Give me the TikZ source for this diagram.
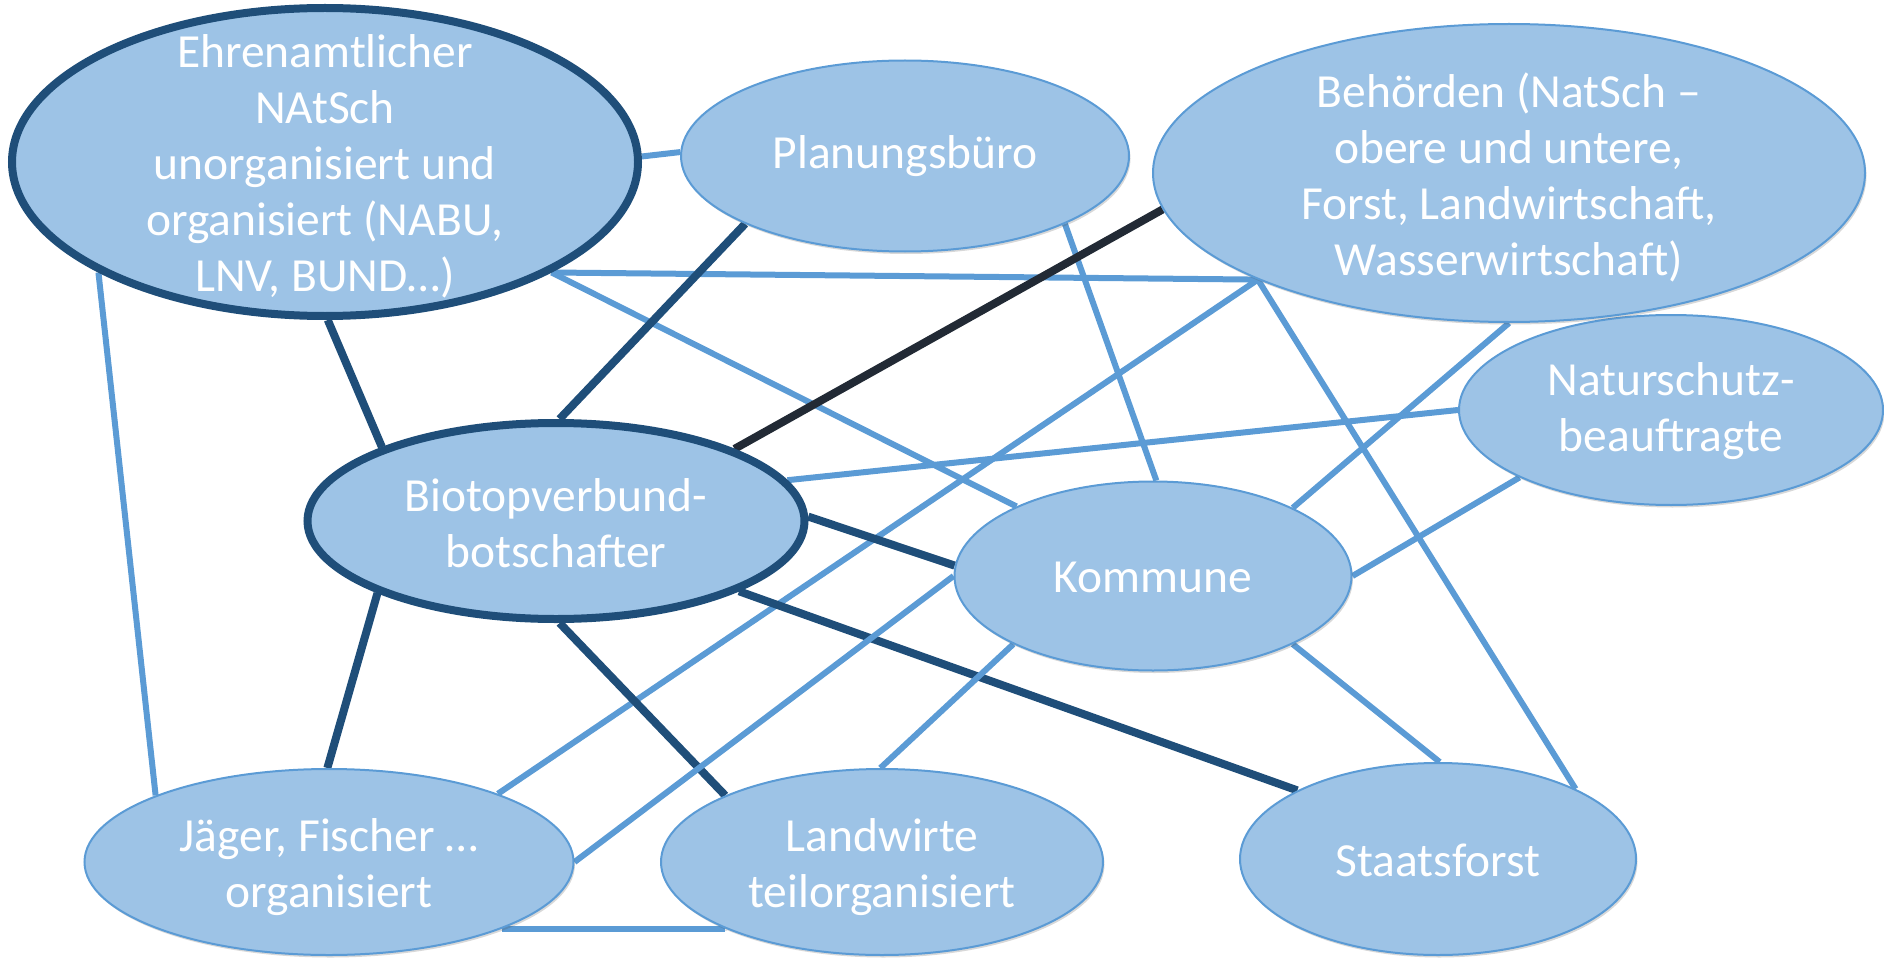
\documentclass[tikz,border=0pt]{standalone}
\usepackage{fontspec}
\setmainfont{Carlito}
\usetikzlibrary{shapes.geometric,backgrounds,shadows}
\definecolor{fillblue}{HTML}{9DC3E6}
\definecolor{lineblue}{HTML}{5B9BD5}
\definecolor{darkblue}{HTML}{1F4E79}
\definecolor{nearblack}{HTML}{222A35}
\tikzset{
  bubble/.style={ellipse, fill=fillblue, draw=lineblue, line width=2pt, inner sep=0pt,
    drop shadow={shadow xshift=1.5pt, shadow yshift=-2.5pt, opacity=0.22, fill=black!70}},
  keybubble/.style={bubble, draw=darkblue, line width=8pt},
  lbl/.style={text=white, align=center, inner sep=0pt, font=\fontsize{47.5}{56}\selectfont},
  linkshadow/.style={preaction={draw=black, opacity=0.12, transform canvas={shift={(1.5pt,-2pt)}}}},
  lightlink/.style={linkshadow, draw=lineblue, line width=6pt},
  darklink/.style={linkshadow, draw=darkblue, line width=8pt},
  blacklink/.style={linkshadow, draw=nearblack, line width=8pt},
}
\begin{document}
\begin{tikzpicture}[x=1pt,y=-1pt]
\useasboundingbox (0,0) rectangle (1884,960);
% nodes
\node[bubble, minimum width=424pt, minimum height=190pt] (nat) at (1671,410) {};
\node[bubble, minimum width=712pt, minimum height=298pt] (beh) at (1509,173) {};
\node[keybubble, minimum width=626pt, minimum height=308pt] (ehren) at (325,162) {};
\node[bubble, minimum width=448pt, minimum height=191pt] (plan) at (905,156) {};
\node[keybubble, minimum width=497pt, minimum height=196pt] (bio) at (556,521) {};
\node[bubble, minimum width=397pt, minimum height=189pt] (kom) at (1153,576) {};
\node[bubble, minimum width=489pt, minimum height=186pt] (jag) at (329,862) {};
\node[bubble, minimum width=442pt, minimum height=186pt] (land) at (882,862) {};
\node[bubble, minimum width=396pt, minimum height=192pt] (staat) at (1438,859) {};
% texts
\node[lbl] (ehrent) at (325,166) {Ehrenamtlicher\\NAtSch\\unorganisiert und\\organisiert (NABU,\\LNV, BUND…)};
\node[lbl] (plant) at (905,156) {Planungsbüro};
\node[lbl] (beht) at (1509,177) {Behörden (NatSch –\\obere und untere,\\Forst, Landwirtschaft,\\Wasserwirtschaft)};
\node[lbl] (natt) at (1671,411) {Naturschutz-\\beauftragte};
\node[lbl] (biot) at (556,523) {Biotopverbund-\\botschafter};
\node[lbl] (komt) at (1153,577) {Kommune};
\node[lbl] (jagt) at (329,867) {Jäger, Fischer …\\organisiert};
\node[lbl] (landt) at (882,867) {Landwirte\\teilorganisiert};
\node[lbl] (staatt) at (1438,860) {Staatsforst};
% connectors
\begin{pgfonlayer}{background}
\draw[lightlink] (ehren.1) -- (plan.179);
\draw[lightlink] (ehren.334) -- (beh.203);
\draw[lightlink] (ehren.334) -- (kom.153);
\draw[lightlink] (ehren.206) -- (jag.159);
\draw[darklink] (ehren.271) -- (bio.157);
\draw[darklink] (plan.203) -- (bio.88);
\draw[lightlink] (plan.337) -- (kom.88);
\draw[blacklink] (beh.186) -- (bio.22);
\draw[lightlink] (beh.203) -- (jag.22);
\draw[lightlink] (beh.203) -- (staat.27);
\draw[lightlink] (beh.270) -- (kom.26);
\draw[lightlink] (nat.180) -- (bio.10);
\draw[lightlink] (nat.204) -- (kom.0);
\draw[darklink] (bio.1) -- (kom.177);
\draw[darklink] (bio.339) -- (staat.154);
\draw[darklink] (bio.202) -- (jag.91);
\draw[darklink] (bio.272) -- (land.157);
\draw[lightlink] (kom.180) -- (jag.0);
\draw[lightlink] (kom.206) -- (land.91);
\draw[lightlink] (kom.334) -- (staat.89);
\draw[lightlink] (jag.339) -- (land.203);
\end{pgfonlayer}
\end{tikzpicture}
\end{document}
